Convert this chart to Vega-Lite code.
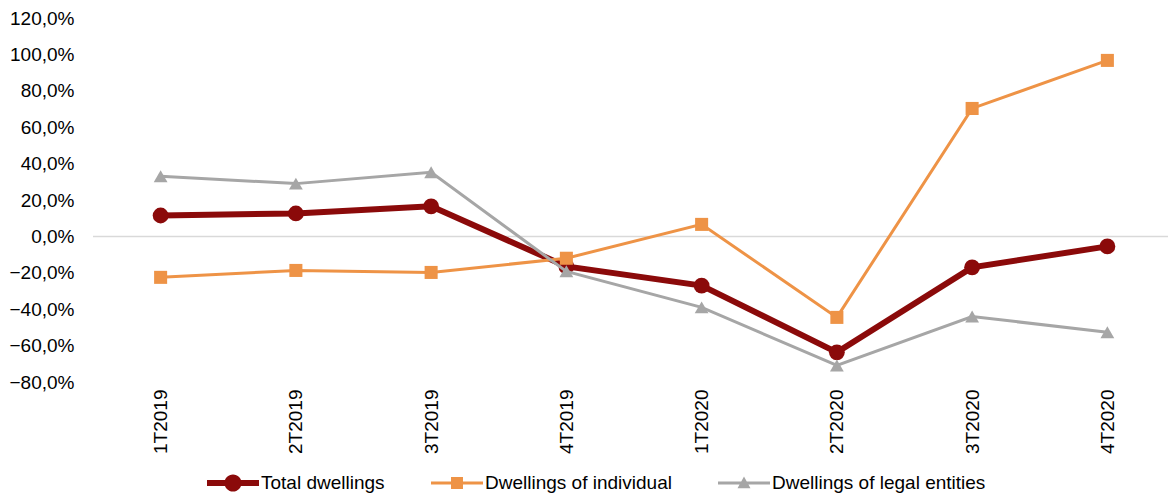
{
  "$schema": "https://vega.github.io/schema/vega-lite/v6.json",
  "width": 1082,
  "height": 364,
  "autosize": "none",
  "padding": {"left": 93, "top": 18, "right": 0, "bottom": 112},
  "config": {
    "view": {"stroke": null},
    "font": "Liberation Sans",
    "axis": {"labelFont": "Liberation Sans", "labelFontSize": 19, "labelColor": "#000000", "domain": false, "ticks": false, "grid": false, "title": null},
    "legend": {"labelFont": "Liberation Sans", "labelFontSize": 19, "labelColor": "#000000", "labelLimit": 0}
  },
  "data": {
    "values": [
      {"q": "1T2019", "s": "Total dwellings", "v": 11.5},
      {"q": "2T2019", "s": "Total dwellings", "v": 12.6},
      {"q": "3T2019", "s": "Total dwellings", "v": 16.5},
      {"q": "4T2019", "s": "Total dwellings", "v": -16.5},
      {"q": "1T2020", "s": "Total dwellings", "v": -27.0},
      {"q": "2T2020", "s": "Total dwellings", "v": -63.7},
      {"q": "3T2020", "s": "Total dwellings", "v": -17.0},
      {"q": "4T2020", "s": "Total dwellings", "v": -5.5},
      {"q": "1T2019", "s": "Dwellings of individual", "v": -22.5},
      {"q": "2T2019", "s": "Dwellings of individual", "v": -18.7},
      {"q": "3T2019", "s": "Dwellings of individual", "v": -19.8},
      {"q": "4T2019", "s": "Dwellings of individual", "v": -12.0},
      {"q": "1T2020", "s": "Dwellings of individual", "v": 6.6},
      {"q": "2T2020", "s": "Dwellings of individual", "v": -44.5},
      {"q": "3T2020", "s": "Dwellings of individual", "v": 70.3},
      {"q": "4T2020", "s": "Dwellings of individual", "v": 96.7},
      {"q": "1T2019", "s": "Dwellings of legal entities", "v": 33.0},
      {"q": "2T2019", "s": "Dwellings of legal entities", "v": 29.0},
      {"q": "3T2019", "s": "Dwellings of legal entities", "v": 35.2},
      {"q": "4T2019", "s": "Dwellings of legal entities", "v": -19.2},
      {"q": "1T2020", "s": "Dwellings of legal entities", "v": -39.0},
      {"q": "2T2020", "s": "Dwellings of legal entities", "v": -70.9},
      {"q": "3T2020", "s": "Dwellings of legal entities", "v": -44.0},
      {"q": "4T2020", "s": "Dwellings of legal entities", "v": -52.7}
    ]
  },
  "encoding": {
    "x": {
      "field": "q", "type": "ordinal", "sort": null,
      "scale": {"type": "point", "padding": 0.5},
      "axis": {"labelAngle": -90, "labelPadding": 7}
    },
    "y": {
      "field": "v", "type": "quantitative",
      "scale": {"domain": [-80, 120], "nice": false, "zero": false},
      "axis": {"values": [-80, -60, -40, -20, 0, 20, 40, 60, 80, 100, 120], "labelPadding": 19, "labelExpr": "replace(format(datum.value, '.1f'), '.', ',') + '%'"}
    },
    "color": {
      "field": "s", "type": "nominal",
      "scale": {"domain": ["Total dwellings", "Dwellings of individual", "Dwellings of legal entities"], "range": ["#8B0A0A", "#EE9346", "#A6A6A6"]},
      "legend": {
        "title": null,
        "orient": "none",
        "direction": "horizontal",
        "columns": 3,
        "legendX": 114,
        "legendY": 439,
        "columnPadding": 46,
        "labelOffset": 2,
        "labelLimit": 0,
        "symbolSize": 2704,
        "symbolType": "circle",
        "encode": {
          "symbols": {
            "update": {
              "shape": {"signal": "datum.value === 'Total dwellings' ? 'M-1,-0.115H1V0.115H-1Z M0.33,0A0.33,0.33 0 1,1 -0.33,0A0.33,0.33 0 1,1 0.33,0Z' : (datum.value === 'Dwellings of individual' ? 'M-1,-0.058H1V0.058H-1Z M-0.23,-0.23H0.23V0.23H-0.23Z' : 'M-1,-0.058H1V0.058H-1Z M0,-0.25L0.25,0.2L-0.25,0.2Z')"},
              "fill": {"signal": "scale('color', datum.value)"},
              "stroke": {"value": "transparent"},
              "strokeWidth": {"value": 0},
              "opacity": {"value": 1},
              "size": {"value": 2704}
            }
          }
        }
      }
    }
  },
  "layer": [
    {
      "data": {"values": [{"z": 0}]},
      "mark": {"type": "rule", "color": "#d9d9d9", "strokeWidth": 1.5},
      "encoding": {"y": {"field": "z", "type": "quantitative"}, "x": null, "color": null}
    },
    {
      "transform": [{"filter": "datum.s === 'Total dwellings'"}],
      "mark": {"type": "line", "strokeWidth": 6, "point": {"shape": "circle", "size": 250, "filled": true, "opacity": 1}}
    },
    {
      "transform": [{"filter": "datum.s === 'Dwellings of individual'"}],
      "mark": {"type": "line", "strokeWidth": 3, "point": {"shape": "square", "size": 170, "filled": true, "opacity": 1}}
    },
    {
      "transform": [{"filter": "datum.s === 'Dwellings of legal entities'"}],
      "mark": {"type": "line", "strokeWidth": 3, "point": {"shape": "triangle-up", "size": 190, "filled": true, "opacity": 1}}
    }
  ]
}
